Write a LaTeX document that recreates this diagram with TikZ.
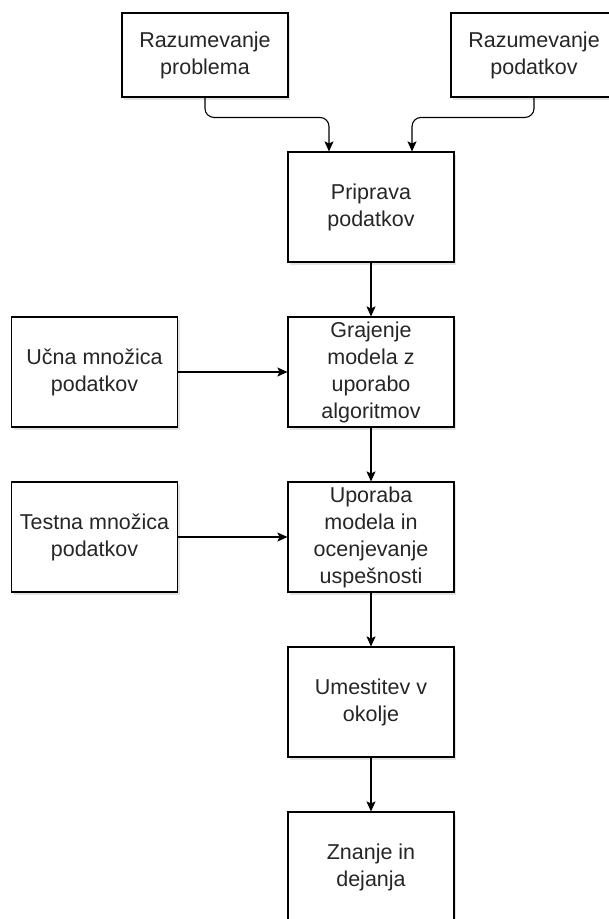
\documentclass[tikz,border=0pt]{standalone}
\usepackage{fontspec}
\setmainfont{Liberation Sans}
\usetikzlibrary{arrows.meta,positioning,shadows}

\begin{document}
\begin{tikzpicture}[x=1pt, y=1pt, >={Stealth[length=10pt,width=9pt,inset=2pt]},
  line width=1.1pt,
  box/.style={draw, fill=white, minimum width=166pt, minimum height=110pt, align=center,
    text=black!85, font=\fontsize{21.5}{27}\selectfont,
    drop shadow={opacity=0.22, shadow xshift=2pt, shadow yshift=-2.5pt}},
  topbox/.style={box, minimum height=84pt}]
  \useasboundingbox (0,0) rectangle (609,-919);
  \clip (0,0) rectangle (609,-919);
  \node[topbox] (prob) at (205,-55) {Razumevanje\\ problema};
  \node[topbox] (podat) at (534,-55) {Razumevanje\\ podatkov};
  \node[box] (prip) at (371,-207) {Priprava\\ podatkov};
  \node[box] (graj) at (371,-372) {Grajenje\\ modela z\\ uporabo\\ algoritmov};
  \node[box] (ucna) at (94.5,-372) {Učna množica\\ podatkov};
  \node[box] (test) at (94.5,-537) {Testna množica\\ podatkov};
  \node[box] (upor) at (371,-537) {Uporaba\\ modela in\\ ocenjevanje\\ uspešnosti};
  \node[box] (umes) at (371,-702) {Umestitev v\\ okolje};
  \node[box] (znan) at (371,-867) {Znanje in\\ dejanja};
  % top merge
  \draw[->, rounded corners=9pt] (prob.south) |- ([xshift=-42pt,yshift=34pt]prip.north) -- ([xshift=-42pt]prip.north);
  \draw[->, rounded corners=9pt] (podat.south) |- ([xshift=41pt,yshift=34pt]prip.north) -- ([xshift=41pt]prip.north);
  % main chain
  \draw[->] (prip) -- (graj);
  \draw[->] (graj) -- (upor);
  \draw[->] (upor) -- (umes);
  \draw[->] (umes) -- (znan);
  \draw[->] (ucna) -- (graj);
  \draw[->] (test) -- (upor);
\end{tikzpicture}
\end{document}
